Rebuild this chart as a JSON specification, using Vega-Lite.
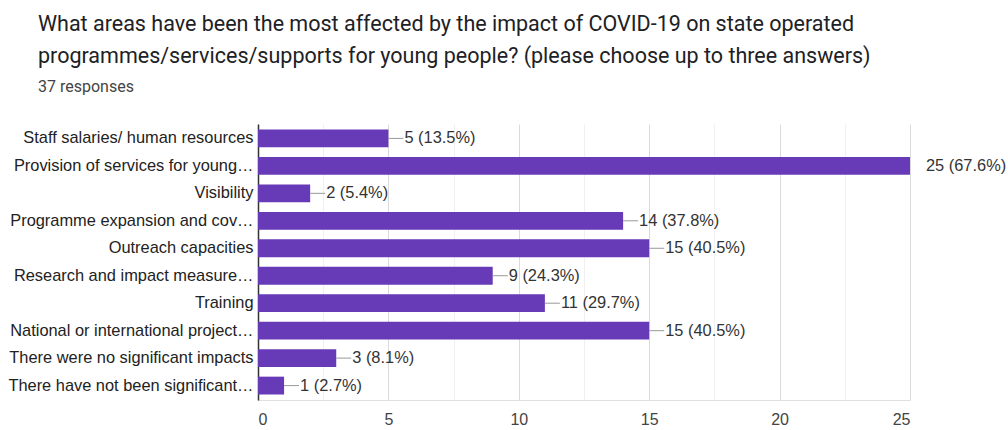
{
  "$schema": "https://vega.github.io/schema/vega-lite/v6.json",
  "width": 652,
  "height": 276,
  "autosize": "none",
  "padding": {"left": 258, "top": 124, "right": 98, "bottom": 30},
  "background": "white",
  "title": {
    "text": ["What areas have been the most affected by the impact of COVID-19 on state operated", "programmes/services/supports for young people? (please choose up to three answers)"],
    "subtitle": "37 responses",
    "anchor": "start",
    "frame": "group",
    "dx": -220,
    "offset": 29,
    "font": "Roboto",
    "fontSize": 21.5,
    "fontWeight": "normal",
    "color": "#202124",
    "lineHeight": 32,
    "subtitleFont": "Roboto",
    "subtitleFontSize": 16,
    "subtitleColor": "#444",
    "subtitlePadding": 12
  },
  "config": {"view": {"stroke": null}},
  "data": {
    "values": [
      {"area": "Staff salaries/ human resources", "count": 5, "label": "5 (13.5%)"},
      {"area": "Provision of services for young…", "count": 25, "label": "25 (67.6%)"},
      {"area": "Visibility", "count": 2, "label": "2 (5.4%)"},
      {"area": "Programme expansion and cov…", "count": 14, "label": "14 (37.8%)"},
      {"area": "Outreach capacities", "count": 15, "label": "15 (40.5%)"},
      {"area": "Research and impact measure…", "count": 9, "label": "9 (24.3%)"},
      {"area": "Training", "count": 11, "label": "11 (29.7%)"},
      {"area": "National or international project…", "count": 15, "label": "15 (40.5%)"},
      {"area": "There were no significant impacts", "count": 3, "label": "3 (8.1%)"},
      {"area": "There have not been significant…", "count": 1, "label": "1 (2.7%)"}
    ]
  },
  "encoding": {
    "y": {
      "field": "area",
      "type": "nominal",
      "sort": null,
      "scale": {"paddingInner": 0.35, "paddingOuter": 0.2},
      "axis": {
        "title": null,
        "ticks": false,
        "domainColor": "#333",
        "domainWidth": 1.5,
        "labelFont": "Liberation Sans",
        "labelFontSize": 16.4,
        "labelColor": "#222",
        "labelPadding": 5,
        "labelLimit": 300
      }
    }
  },
  "layer": [
    {
      "mark": {"type": "bar", "color": "#673ab7"},
      "encoding": {
        "x": {
          "field": "count",
          "type": "quantitative",
          "scale": {"domain": [0, 25], "nice": false},
          "axis": {
            "title": null,
            "values": [0, 2.5, 5, 7.5, 10, 12.5, 15, 17.5, 20, 22.5, 25],
            "labelExpr": "datum.value % 5 === 0 ? datum.label : ''",
            "ticks": false,
            "domainColor": "#e0e0e0",
            "gridColor": {"condition": {"test": "datum.value % 5 === 0", "value": "#dadada"}, "value": "#f0f0f0"},
            "labelFont": "Liberation Sans",
            "labelFontSize": 16,
            "labelColor": "#444",
            "labelPadding": 11
          }
        }
      }
    },
    {
      "mark": {"type": "rule", "x2Offset": 15},
      "encoding": {
        "x": {"field": "count", "type": "quantitative"},
        "x2": {"field": "count"},
        "color": {"condition": {"test": "datum.count >= 25", "value": "transparent"}, "value": "#999"}
      }
    },
    {
      "mark": {"type": "text", "align": "left", "baseline": "middle", "dx": 16, "font": "Liberation Sans", "fontSize": 16.4, "color": "#333"},
      "encoding": {
        "x": {"field": "count", "type": "quantitative"},
        "text": {"field": "label"}
      }
    }
  ]
}
